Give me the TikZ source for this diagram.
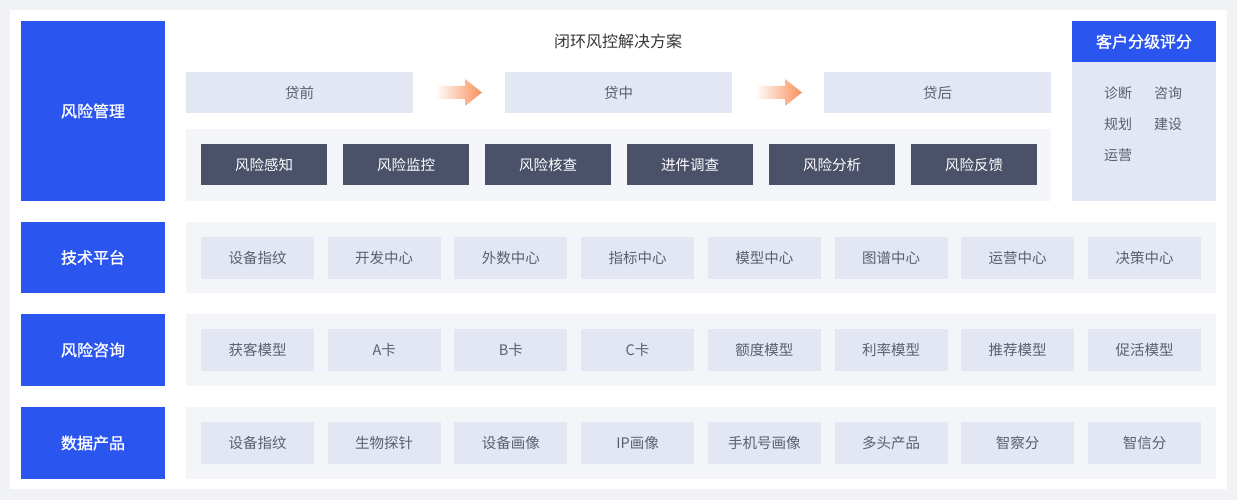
\documentclass[tikz,border=0pt]{standalone}
\usepackage{fontspec}
\setmainfont{Noto Sans CJK SC}
\newfontfamily\medio[FakeBold=1.2]{Noto Sans CJK SC}
\definecolor{fundo}{HTML}{F0F2F5}
\definecolor{azul}{HTML}{2A55EE}
\definecolor{escuro}{HTML}{4B5169}
\definecolor{claro}{HTML}{E3E7F3}
\definecolor{painelcor}{HTML}{F4F5F9}
\definecolor{textocinza}{HTML}{5B6070}
\definecolor{laranja}{HTML}{F7905A}
\begin{document}
\begin{tikzpicture}[x=1pt, y=-1pt,
            caixa/.style={shape=rectangle, anchor=north west, inner sep=0pt, outer sep=0pt},
            cabeca/.style={caixa, fill=azul, text=white, minimum width=144, font=\fontsize{16}{16}\selectfont\medio},
            etapa/.style={caixa, fill=claro, text=textocinza, minimum width=227, minimum height=41, font=\fontsize{14.5}{14.5}\selectfont},
            modulo/.style={caixa, fill=escuro, text=white, minimum width=126, minimum height=41, font=\fontsize{14.5}{14.5}\selectfont},
            item/.style={caixa, fill=claro, text=textocinza, minimum width=113, minimum height=41.5, font=\fontsize{14.5}{14.5}\selectfont},
            painel/.style={caixa, fill=painelcor},
            servico/.style={text=textocinza, inner sep=0pt, font=\fontsize{14}{14}\selectfont},
            seta/.style={left color=laranja!4, right color=laranja},
        ]
        % fundo e moldura
        \fill[fundo] (0,0) rectangle (1237,500);
        \fill[white] (10,10) rectangle (1227,489);

        % cabecas azuis
        \node[cabeca, minimum height=180] (fxgl) at (21,21) {风险管理};
        \node[cabeca, minimum height=71] (jspt) at (21,222) {技术平台};
        \node[cabeca, minimum height=72] (fxzx) at (21,314) {风险咨询};
        \node[cabeca, minimum height=72] (sjcp) at (21,407) {数据产品};

        % gestao de risco
        \node[text=black!78, font=\fontsize{16}{16}\selectfont] (titulo) at (618,41) {闭环风控解决方案};
        \node[etapa] (dq) at (186,72) {贷前};
        \node[etapa] (dz) at (505,72) {贷中};
        \node[etapa] (dh) at (824,72) {贷后};
        \shade[seta] (437,86) -- (465,86) -- (465,79) -- (482,92.5) -- (465,106) -- (465,99) -- (437,99) -- cycle;
        \shade[seta] (757,86) -- (785,86) -- (785,79) -- (802,92.5) -- (785,106) -- (785,99) -- (757,99) -- cycle;

        \node[painel, minimum width=865, minimum height=72] (fxpainel) at (186,129) {};
        \node[modulo] (gz) at (201,144) {风险感知};
        \node[modulo] (jk) at (343,144) {风险监控};
        \node[modulo] (hc) at (485,144) {风险核查};
        \node[modulo] (dc) at (627,144) {进件调查};
        \node[modulo] (fx) at (769,144) {风险分析};
        \node[modulo] (fk) at (911,144) {风险反馈};

        % cliente
        \node[cabeca, minimum height=41] (khpf) at (1072,21) {客户分级评分};
        \node[painel, fill=claro, minimum width=144, minimum height=139] (khcorpo) at (1072,62) {};
        \node[servico] (zd) at (1118,93) {诊断};
        \node[servico] (zx) at (1168,93) {咨询};
        \node[servico] (gh) at (1118,124) {规划};
        \node[servico] (js) at (1168,124) {建设};
        \node[servico] (yy) at (1118,155) {运营};

        % plataforma tecnica
        \node[painel, minimum width=1030, minimum height=71] (jspainel) at (186,222) {};
        \node[item] (a1) at (201,237) {设备指纹};
        \node[item] (a2) at (327.7,237) {开发中心};
        \node[item] (a3) at (454.4,237) {外数中心};
        \node[item] (a4) at (581.1,237) {指标中心};
        \node[item] (a5) at (707.8,237) {模型中心};
        \node[item] (a6) at (834.5,237) {图谱中心};
        \node[item] (a7) at (961.2,237) {运营中心};
        \node[item] (a8) at (1088,237) {决策中心};

        % consultoria
        \node[painel, minimum width=1030, minimum height=72] (zxpainel) at (186,314) {};
        \node[item] (b1) at (201,329) {获客模型};
        \node[item] (b2) at (327.7,329) {A卡};
        \node[item] (b3) at (454.4,329) {B卡};
        \node[item] (b4) at (581.1,329) {C卡};
        \node[item] (b5) at (707.8,329) {额度模型};
        \node[item] (b6) at (834.5,329) {利率模型};
        \node[item] (b7) at (961.2,329) {推荐模型};
        \node[item] (b8) at (1088,329) {促活模型};

        % produtos de dados
        \node[painel, minimum width=1030, minimum height=72] (sjpainel) at (186,407) {};
        \node[item] (c1) at (201,422) {设备指纹};
        \node[item] (c2) at (327.7,422) {生物探针};
        \node[item] (c3) at (454.4,422) {设备画像};
        \node[item] (c4) at (581.1,422) {IP画像};
        \node[item] (c5) at (707.8,422) {手机号画像};
        \node[item] (c6) at (834.5,422) {多头产品};
        \node[item] (c7) at (961.2,422) {智察分};
        \node[item] (c8) at (1088,422) {智信分};

    \end{tikzpicture}
\end{document}
